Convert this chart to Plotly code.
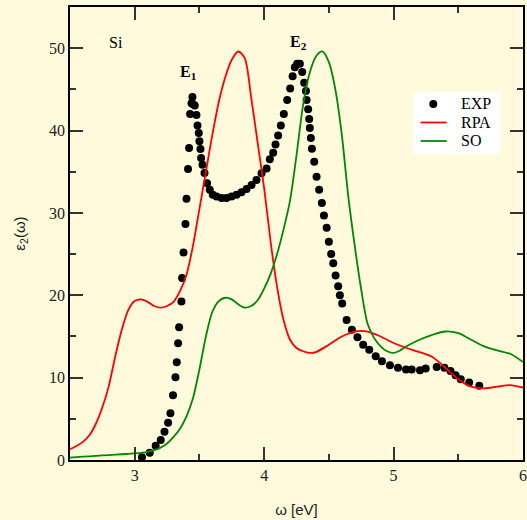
import plotly.graph_objects as go

# EXP data
exp_x = [3.056, 3.116, 3.162, 3.201, 3.230, 3.258, 3.276, 3.296, 3.315, 3.325, 3.335, 3.343,
         3.361, 3.366, 3.377, 3.392, 3.400, 3.412, 3.420, 3.428, 3.439, 3.446, 3.451, 3.464,
         3.477, 3.485, 3.495, 3.500, 3.508, 3.513, 3.524, 3.539, 3.559, 3.580,
         3.603, 3.632, 3.671, 3.709, 3.748, 3.787, 3.825, 3.864, 3.903, 3.941, 3.980, 4.019,
         4.044, 4.070, 4.088, 4.108, 4.129, 4.152, 4.178, 4.201, 4.220, 4.237, 4.255, 4.276,
         4.294, 4.309, 4.323, 4.328, 4.340, 4.348, 4.353, 4.361, 4.369, 4.387, 4.405, 4.425,
         4.446, 4.462, 4.483, 4.500, 4.518, 4.534, 4.552, 4.572, 4.585, 4.603, 4.637, 4.678,
         4.721, 4.765, 4.812, 4.862, 4.910, 4.972, 5.034, 5.096, 5.140, 5.204, 5.248, 5.333,
         5.393, 5.440, 5.479, 5.519, 5.584, 5.662]
exp_y = [0.33, 0.89, 1.74, 2.43, 3.44, 4.53, 5.67, 7.86, 10.05, 11.87, 14.18, 16.12,
         19.23, 22.11, 25.19, 28.64, 31.71, 35.32, 37.87, 42.0, 43.3, 44.07, 43.2, 43.05,
         41.9, 40.6, 39.7, 38.7, 37.75, 36.66, 35.84, 34.84, 33.6, 32.8,
         32.2, 32.0, 31.8, 31.8, 32.0, 32.2, 32.5, 32.9, 33.4, 34.0, 34.8, 35.4,
         36.5, 37.3, 38.3, 39.4, 40.6, 42.0, 43.7, 45.1, 46.6, 47.7, 48.1, 48.1,
         47.1, 45.8, 44.8, 43.7, 42.6, 41.4, 40.3, 39.1, 37.8, 36.2, 34.4, 32.8,
         31.2, 29.7, 28.2, 26.5, 25.0, 23.9, 22.4, 21.1, 20.0, 19.0, 17.0, 15.8,
         14.9, 14.0, 13.4, 12.6, 12.0, 11.5, 11.2, 11.0, 11.0, 10.9, 11.1, 11.3,
         11.2, 10.8, 10.3, 9.8, 9.4, 9.0]

# RPA curve
rpa_x = [2.5, 2.55, 2.6, 2.65, 2.7, 2.75, 2.8, 2.85, 2.9, 2.95, 3.0, 3.05, 3.1, 3.15, 3.2,
         3.25, 3.3, 3.35, 3.4, 3.45, 3.5, 3.55, 3.6, 3.65, 3.7, 3.75, 3.8, 3.85, 3.9, 3.95,
         4.0, 4.05, 4.1, 4.15, 4.2, 4.25, 4.3, 4.35, 4.4, 4.5, 4.6, 4.7, 4.8, 4.9, 5.0,
         5.1, 5.2, 5.3, 5.4, 5.5, 5.6, 5.7, 5.8, 5.9, 6.0]
rpa_y = [1.3, 1.7, 2.2, 3.0, 4.4, 6.4, 9.0, 12.6, 15.8, 18.2, 19.3, 19.5, 19.2, 18.7, 18.5,
         18.7, 19.2, 20.5, 22.5, 26.0, 30.5, 35.0, 39.5, 43.5, 46.5, 48.6, 49.6, 48.8, 44.0, 38.5,
         33.0, 26.5, 21.0, 17.0, 14.6, 13.6, 13.2, 13.0, 13.1, 14.0, 15.0, 15.6, 15.6, 15.0, 14.2,
         13.6, 13.1, 12.5, 11.2, 9.8, 8.9, 8.7, 8.9, 9.1, 8.8]

# SO curve
so_x = [2.5, 2.6, 2.7, 2.8, 2.9, 3.0, 3.1, 3.15, 3.2, 3.25, 3.3, 3.35, 3.4, 3.45, 3.5,
        3.55, 3.6, 3.65, 3.7, 3.75, 3.8, 3.85, 3.9, 3.95, 4.0, 4.05, 4.1, 4.15, 4.2, 4.25,
        4.3, 4.35, 4.4, 4.45, 4.5, 4.55, 4.6, 4.65, 4.7, 4.75, 4.8, 4.85, 4.9, 4.95, 5.0,
        5.05, 5.1, 5.2, 5.3, 5.4, 5.5, 5.6, 5.7, 5.8, 5.9, 6.0]
so_y = [0.3, 0.4, 0.5, 0.6, 0.7, 0.8, 1.0, 1.2, 1.5, 2.0, 2.8, 3.8, 5.3, 7.5, 11.0,
        15.0, 18.0, 19.3, 19.7, 19.5, 18.9, 18.5, 18.7, 19.4, 20.8, 22.6, 25.0, 28.0, 31.5, 37.0,
        43.0, 46.9, 49.0, 49.6, 48.3, 45.0, 39.5, 32.0, 26.0, 20.7, 16.5, 14.8, 13.8, 13.2, 13.0,
        13.3, 13.8, 14.6, 15.2, 15.6, 15.4, 14.6, 13.8, 13.3, 12.9, 11.9]

series_names = ["EXP", "RPA", "SO"]
series_colors = ["black", "#ff0000", "#008800"]
x_ticks = [3, 4, 5, 6]
y_ticks = [0, 10, 20, 30, 40, 50]

BG = "#fefadb"
SERIF = "Liberation Serif, Times New Roman, serif"
SANS = "Liberation Sans, Arial, sans-serif"

fig = go.Figure()
fig.add_trace(go.Scatter(x=exp_x, y=exp_y, mode="markers", name=series_names[0],
                         marker=dict(color=series_colors[0], size=8), showlegend=False))
fig.add_trace(go.Scatter(x=rpa_x, y=rpa_y, mode="lines", name=series_names[1],
                         line=dict(color=series_colors[1], width=1.8, shape="spline", smoothing=0.8),
                         showlegend=False))
fig.add_trace(go.Scatter(x=so_x, y=so_y, mode="lines", name=series_names[2],
                         line=dict(color=series_colors[2], width=1.8, shape="spline", smoothing=0.8),
                         showlegend=False))

axis_common = dict(showgrid=False, zeroline=False, showline=True, linecolor="black",
                   linewidth=1.5, mirror="ticks", ticks="inside", ticklen=13,
                   tickwidth=1.5, tickcolor="#333333", automargin=False,
                   tickfont=dict(family=SERIF, size=16, color="#222222"))

fig.update_xaxes(range=[2.5, 6], tickvals=x_ticks, ticktext=[str(v) for v in x_ticks],
                 minor=dict(ticks="inside", ticklen=6, tickwidth=1.5, tickcolor="#333333",
                            dtick=0.5, tick0=0),
                 title=dict(text="ω [eV]", font=dict(family=SANS, size=15, color="#222222"),
                            standoff=22),
                 **axis_common)
fig.update_yaxes(range=[0, 55], tickvals=y_ticks, ticktext=[str(v) for v in y_ticks],
                 minor=dict(ticks="inside", ticklen=6, tickwidth=1.5, tickcolor="#333333",
                            dtick=5, tick0=0),
                 title=dict(text="ε<sub>2</sub>(ω)", font=dict(family=SANS, size=15, color="#222222"),
                            standoff=20),
                 **axis_common)

fig.add_annotation(x=2.852, y=50.7, text="Si", showarrow=False,
                   font=dict(family=SERIF, size=16, color="black"))
fig.add_annotation(x=3.415, y=47.0, text="<b>E<sub>1</sub></b>", showarrow=False,
                   font=dict(family=SERIF, size=16, color="black"))
fig.add_annotation(x=4.265, y=50.7, text="<b>E<sub>2</sub></b>", showarrow=False,
                   font=dict(family=SERIF, size=16, color="black"))

# Legend drawn in the plot area (paper coordinates from pixel positions)
PL, PR, PT, PB = 70, 523, 7, 460
def px(xp):
    return (xp - PL) / (PR - PL)
def py(yp):
    return (PB - yp) / (PB - PT)

fig.add_shape(type="rect", xref="paper", yref="paper",
              x0=px(412.7), x1=px(500.7), y0=py(154), y1=py(92),
              fillcolor="white", line=dict(width=0), layer="above")
row_y = [104, 122.5, 141]
# EXP dot
fig.add_shape(type="circle", xref="paper", yref="paper",
              x0=px(429.3), x1=px(437.3), y0=py(row_y[0] + 4), y1=py(row_y[0] - 4),
              fillcolor=series_colors[0], line=dict(width=0), layer="above")
for i in (1, 2):
    fig.add_shape(type="line", xref="paper", yref="paper",
                  x0=px(420.7), x1=px(446.7), y0=py(row_y[i]), y1=py(row_y[i]),
                  line=dict(color=series_colors[i], width=1.8), layer="above")
for i, name in enumerate(series_names):
    fig.add_annotation(xref="paper", yref="paper", x=px(459), y=py(row_y[i]),
                       xanchor="left", yanchor="middle", text=name, showarrow=False,
                       font=dict(family=SERIF, size=16, color="black"))

fig.update_layout(
    width=527, height=520,
    margin=dict(l=70, r=4, t=7, b=60, autoexpand=False),
    paper_bgcolor=BG, plot_bgcolor=BG,
    showlegend=False,
)

fig.write_html("out.html")
